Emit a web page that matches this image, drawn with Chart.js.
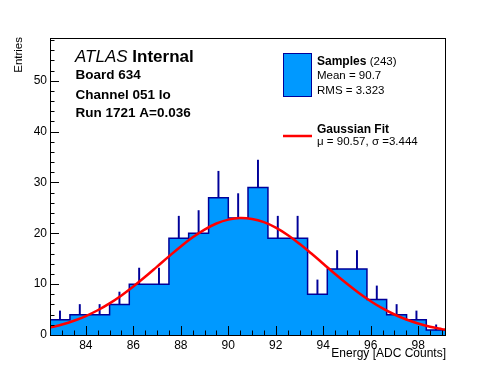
<!DOCTYPE html>
<html lang="en">
<head>
<meta charset="UTF-8">
<title>Energy histogram</title>
<script src="https://cdn.jsdelivr.net/npm/chart.js"></script>
<style>
  body { margin: 0; background: #fff; }
  #wrap { width: 496px; height: 372px; }
</style>
</head>
<body>
<div id="wrap"><canvas id="myChart" width="496" height="372"></canvas></div>
<script>
// histogram bins (low edges + last high edge) and contents
const binEdges = [82.49, 83.33, 84.16, 85.00, 85.83, 86.66, 87.50, 88.33, 89.17, 90.00,
                  90.83, 91.67, 92.50, 93.34, 94.17, 95.00, 95.84, 96.67, 97.51, 98.34, 99.17];
const entries = [3, 4, 4, 6, 10, 10, 19, 20, 27, 23, 29, 19, 19, 8, 13, 13, 7, 4, 3, 1];
const errUp = [1.73, 2, 2, 2.45, 3.16, 3.16, 4.36, 4.47, 5.2, 4.8, 5.39, 4.36, 4.36, 2.83, 3.61, 3.61, 2.65, 2, 1.73, 1];

// gaussian fit curve
const fitX = [82.49, 83, 83.5, 84, 84.5, 85, 85.5, 86, 86.5, 87, 87.5, 88, 88.5, 89, 89.5, 90, 90.5,
              91, 91.5, 92, 92.5, 93, 93.5, 94, 94.5, 95, 95.5, 96, 96.5, 97, 97.5, 98, 98.5, 99, 99.17];
const fitY = [1.45, 2.05, 2.80, 3.73, 4.87, 6.22, 7.78, 9.54, 11.44, 13.44, 15.46, 17.41, 19.20, 20.73, 21.92, 22.69, 23.0,
              22.82, 22.18, 21.10, 19.66, 17.93, 16.01, 14.01, 11.99, 10.06, 8.26, 6.64, 5.22, 4.03, 3.04, 2.25, 1.62, 1.15, 1.02];

const xMin = 82.49, xMax = 99.17, yMax = 58.4;
const FONT = '"Liberation Sans", Arial, Helvetica, sans-serif';

const histPoints = binEdges.map((e, i) => ({ x: e, y: entries[Math.min(i, entries.length - 1)] }));
const errPoints = entries.map((n, i) => ({
  x: (binEdges[i] + binEdges[i + 1]) / 2,
  y: [n, n + errUp[i]]
}));
const fitPoints = fitX.map((x, i) => ({ x: x, y: fitY[i] }));

// ROOT style frame, inward ticks, labels and legend
const rootStyle = {
  id: 'rootStyle',
  afterDatasetsDraw(chart) {
    const c = chart.ctx, a = chart.chartArea;
    const xs = chart.scales.x, ys = chart.scales.y;
    c.save();
    c.strokeStyle = '#000';
    c.lineWidth = 1;
    c.beginPath();
    // x ticks: major every 2, minor every 0.5
    for (let v = 82.5; v <= xMax; v += 0.5) {
      const px = Math.round(xs.getPixelForValue(v)) + 0.5;
      const len = (Math.abs(v % 2) < 1e-6) ? 9 : 4.5;
      c.moveTo(px, a.bottom);
      c.lineTo(px, a.bottom - len);
    }
    // y ticks: major every 10, minor every 2
    for (let v = 0; v <= yMax; v += 2) {
      const py = Math.round(ys.getPixelForValue(v)) + 0.5;
      const len = (v % 10 === 0) ? 9 : 4.5;
      c.moveTo(a.left, py);
      c.lineTo(a.left + len, py);
    }
    c.stroke();
    c.strokeRect(a.left + 0.5, a.top + 0.5, a.right - a.left - 1, a.bottom - a.top);
    c.restore();
  },
  afterDraw(chart) {
    const c = chart.ctx, a = chart.chartArea;
    c.save();
    c.fillStyle = '#000';
    c.textBaseline = 'middle';

    // axis titles
    c.font = '12px ' + FONT;
    c.textAlign = 'right';
    c.fillText('Energy [ADC Counts]', a.right, 354);
    c.save();
    c.translate(19, 37);
    c.rotate(-Math.PI / 2);
    c.font = '11.5px ' + FONT;
    c.fillText('Entries', 0, 0);
    c.restore();

    // ATLAS label block
    c.textAlign = 'left';
    c.font = 'italic 17px ' + FONT;
    c.fillText('ATLAS', 75, 57.5);
    const w = c.measureText('ATLAS ').width;
    c.font = 'bold 17px ' + FONT;
    c.fillText('Internal', 75 + w, 57.5);
    c.font = 'bold 13.5px ' + FONT;
    c.fillText('Board 634', 75.5, 75.5);
    c.fillText('Channel 051 lo', 75.5, 95.5);
    c.fillText('Run 1721 A=0.036', 75.5, 113.5);

    // legend
    c.fillStyle = '#0099ff';
    c.fillRect(283.5, 53.5, 28, 43);
    c.strokeStyle = '#000099';
    c.lineWidth = 1;
    c.strokeRect(283.5, 53.5, 28, 43);
    c.strokeStyle = '#ff0000';
    c.lineWidth = 2.5;
    c.beginPath();
    c.moveTo(283, 136);
    c.lineTo(312, 136);
    c.stroke();

    c.fillStyle = '#000';
    c.font = 'bold 12px ' + FONT;
    c.fillText('Samples', 317, 61.5);
    const ws = c.measureText('Samples ').width;
    c.font = '11.5px ' + FONT;
    c.fillText('(243)', 317 + ws, 61.5);
    c.fillText('Mean = 90.7', 317, 76);
    c.fillText('RMS = 3.323', 317, 90.5);
    c.font = 'bold 12px ' + FONT;
    c.fillText('Gaussian Fit', 317, 129.5);
    c.font = '11.5px ' + FONT;
    c.fillText('\u03bc = 90.57, \u03c3 =3.444', 317, 141.5);
    c.restore();
  }
};

const chart = new Chart(document.getElementById('myChart').getContext('2d'), {
  type: 'bar',
  data: {
    datasets: [
      {
        type: 'line',
        label: 'Samples',
        data: histPoints,
        stepped: true,
        fill: 'origin',
        backgroundColor: '#0099ff',
        borderColor: '#000099',
        borderWidth: 1.5,
        pointRadius: 0,
        order: 3
      },
      {
        type: 'bar',
        label: 'errors',
        data: errPoints,
        backgroundColor: '#000099',
        borderWidth: 0,
        barThickness: 1.3,
        grouped: false,
        order: 2
      },
      {
        type: 'line',
        label: 'Gaussian Fit',
        data: fitPoints,
        borderColor: '#ff0000',
        borderWidth: 2.5,
        pointRadius: 0,
        tension: 0.4,
        fill: false,
        order: 1
      }
    ]
  },
  options: {
    responsive: false,
    animation: false,
    devicePixelRatio: 1,
    layout: { padding: { left: 0, right: 50, top: 38, bottom: 0 } },
    plugins: { legend: { display: false }, tooltip: { enabled: false } },
    scales: {
      x: {
        type: 'linear',
        min: xMin,
        max: xMax,
        offset: false,
        grid: { display: false, drawTicks: false },
        border: { display: false },
        ticks: {
          stepSize: 2,
          includeBounds: false,
          padding: 3,
          maxRotation: 0,
          autoSkip: false,
          color: '#000',
          font: { family: FONT, size: 12 }
        },
        afterFit: s => { s.height = 37; }
      },
      y: {
        min: 0,
        max: yMax,
        grid: { display: false, drawTicks: false },
        border: { display: false },
        ticks: {
          stepSize: 10,
          includeBounds: false,
          padding: 3,
          color: '#000',
          font: { family: FONT, size: 12 }
        },
        afterFit: s => { s.width = 50; }
      }
    }
  },
  plugins: [rootStyle]
});
</script>
</body>
</html>
